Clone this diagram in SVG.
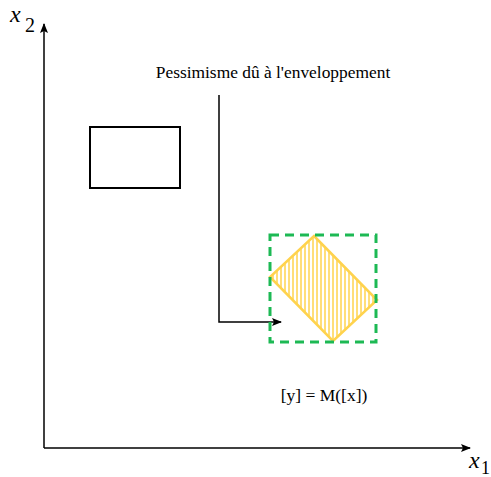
<svg xmlns="http://www.w3.org/2000/svg" width="491" height="477" viewBox="0 0 491 477">
<style>
.t{font-family:"Liberation Serif","Times New Roman",serif;fill:#000}
.ax{stroke:#000;stroke-width:1.5;fill:none}
</style>
<defs>
<marker id="ah" markerWidth="10" markerHeight="8" refX="9" refY="4" orient="auto" markerUnits="userSpaceOnUse">
<path d="M0,0 L10,4 L0,8 L2,4 Z" fill="#000"/>
</marker>
<pattern id="hatch" width="4" height="10" patternUnits="userSpaceOnUse">
<line x1="1" y1="0" x2="1" y2="10" stroke="#ffd34d" stroke-width="1.5"/>
</pattern>
</defs>
<rect width="491" height="477" fill="#fff"/>
<g id="connectors">
<line class="ax" x1="44" y1="448" x2="44" y2="24" marker-end="url(#ah)"/>
<line class="ax" x1="44" y1="448" x2="470" y2="448" marker-end="url(#ah)"/>
<polyline class="ax" points="219,95 219,322 281,322" marker-end="url(#ah)"/>
</g>
<g id="axis-x2"><text class="t" x="10" y="22" font-size="24" font-style="italic">x</text><text class="t" x="25" y="32" font-size="20">2</text></g>
<g id="axis-x1"><text class="t" x="469" y="468" font-size="24" font-style="italic">x</text><text class="t" x="481" y="474" font-size="18">1</text></g>
<g id="box-x"><rect x="90" y="127" width="90" height="61" fill="none" stroke="#000" stroke-width="2"/></g>
<g id="image-y">
<polygon points="314,236 377,300 333,341 270,277" fill="url(#hatch)" stroke="#ffd34d" stroke-width="2.5"/>
</g>
<g id="envelope"><rect x="270" y="235" width="106" height="107" fill="none" stroke="#1db954" stroke-width="3" stroke-dasharray="9,6"/></g>
<g id="label-pess"><text class="t" x="273" y="78" font-size="17.4" text-anchor="middle">Pessimisme dû à l'enveloppement</text></g>
<g id="label-y"><text class="t" x="324" y="401" font-size="17.5" text-anchor="middle">[y] = M([x])</text></g>
</svg>
